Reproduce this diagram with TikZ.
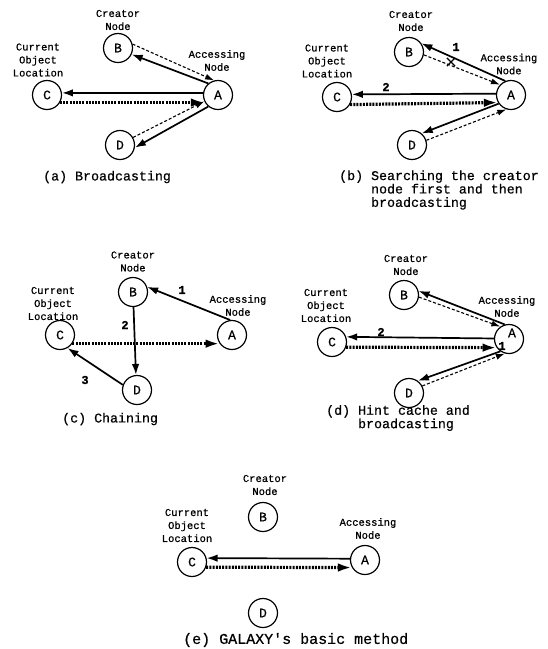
\documentclass[tikz,border=0pt]{standalone}
\usepackage{fontspec}
\setmonofont[FakeBold=1]{Liberation Mono}
\newfontfamily\courfont[FakeBold=0.6]{Liberation Mono}
\usetikzlibrary{arrows.meta,shapes.misc}
\begin{document}
\begin{tikzpicture}[x=1pt,y=-1pt,
 nd/.style={circle,draw,line width=1.2pt,minimum size=29pt,inner sep=0pt,font=\fontsize{13}{13}\selectfont\courfont},
 lbl/.style={align=center,font=\fontsize{10.5}{13}\selectfont\courfont,inner sep=0pt},
 captxt/.style={align=left,anchor=west,font=\fontsize{13.3}{12}\selectfont\courfont,inner sep=0pt},
 num/.style={font=\fontsize{12}{12}\selectfont\ttfamily\bfseries,inner sep=0pt},
 sol/.style={line width=1.7pt,-{Latex[length=11pt,width=7.5pt]}},
 dsh/.style={line width=1.1pt,dash pattern=on 3pt off 2pt,-{Latex[length=9pt,width=6pt]}},
 dotl/.style={line width=3.2pt,dash pattern=on 2pt off 1.2pt,-{Latex[length=14pt,width=8.5pt]}}]
\useasboundingbox (0,0) rectangle (548,649);

% ---------------- (a)
\node[nd] (aA) at (218,95) {A};
\node[nd] (aB) at (118,48) {B};
\node[nd] (aC) at (47,95) {C};
\node[nd] (aD) at (120,145) {D};
\node[lbl] (aLB) at (118,20) {Creator\\Node};
\node[lbl] (aLC) at (38,60) {Current\\Object\\Location};
\node[lbl] (aLA) at (217,60.5) {Accessing\\Node};
\node[captxt] (aCap) at (43,177) {(a) Broadcasting};
\draw[sol] (aA.130) -- (aB.-25);
\draw[dsh] (aB.15) -- (aA.105);
\draw[sol] (aA.172) -- (aC.8);
\draw[dotl] (aC.-30) -- (aA.-150);
\draw[sol] (aA.-130) -- (aD.-10);
\draw[dsh] (aD.30) -- (aA.-155);

% ---------------- (b)
\node[nd] (bA) at (511,95) {A};
\node[nd] (bB) at (409,52) {B};
\node[nd] (bC) at (337,97) {C};
\node[nd] (bD) at (412,145) {D};
\node[lbl] (bLB) at (411,21) {Creator\\Node};
\node[lbl] (bLC) at (327,61) {Current\\Object\\Location};
\node[lbl] (bLA) at (509,64) {Accessing\\Node};
\node[captxt] (bCap) at (339,190) {(b) Searching the creator\\\phantom{(b)\ }node first and then\\\phantom{(b)\ }broadcasting};
\draw[sol] (bA.112) -- (bB.35);
\draw[dsh] (bB.-11) -- (bA.137);
\node[cross out,draw,line width=1.2pt,minimum size=7pt,inner sep=0pt] (bX) at (451,62) {};
\node[num] (b1) at (456,47) {1};
\draw[sol] (bA.175) -- (bC.10);
\node[num] (b2) at (386,87) {2};
\draw[dotl] (bC.-30) -- (bA.-150);
\draw[sol] (bA.-145) -- (bD.50);
\draw[dsh] (bD.18) -- (bA.-108);

% ---------------- (c)
\node[nd] (cA) at (232,335) {A};
\node[nd] (cB) at (133,292) {B};
\node[nd] (cC) at (60,335) {C};
\node[nd] (cD) at (137,390) {D};
\node[lbl] (cLB) at (133,261.5) {Creator\\Node};
\node[lbl] (cLC) at (53,303.5) {Current\\Object\\Location};
\node[lbl] (cLA) at (238,305.5) {Accessing\\Node};
\node[captxt] (cCap) at (62,419) {(c) Chaining};
\draw[sol] (cA.97) -- (cB.20);
\node[num] (c1) at (182,290) {1};
\draw[sol] (cB.-88) -- (cD.94);
\node[num] (c2) at (125,325) {2};
\draw[sol] (cD.160) -- (cC.-60);
\node[num] (c3) at (85,380) {3};
\draw[dotl] (cC.-35) -- (cA.-145);

% ---------------- (d)
\node[nd] (dA) at (509,339) {};
\node[font=\fontsize{13}{13}\selectfont\courfont,inner sep=0pt] (dAt) at (512,333) {A};
\node[nd] (dB) at (404,295) {B};
\node[nd] (dC) at (332,342) {C};
\node[nd] (dD) at (409,393) {D};
\node[lbl] (dLB) at (406,265) {Creator\\Node};
\node[lbl] (dLC) at (326,305.5) {Current\\Object\\Location};
\node[lbl] (dLA) at (507,306.5) {Accessing\\Node};
\node[captxt] (dCap) at (326,418) {(d) Hint cache and\\\phantom{(d)\ }broadcasting};
\draw[sol] (dA.106) -- (dB.16);
\draw[dsh] (dB.-8) -- (dA.125);
\draw[sol] (dA.178) -- (dC.20);
\node[num] (d2) at (381,332) {2};
\draw[dotl] (dC.-20) -- (dA.-145);
\node[num] (d1) at (502,346) {1};
\draw[sol] (dA.-125) -- (dD.54);
\draw[dsh] (dD.28) -- (dA.-106);

% ---------------- (e)
\node[nd] (eA) at (365,560) {A};
\node[nd] (eB) at (263,517) {B};
\node[nd] (eC) at (192,562) {C};
\node[nd] (eD) at (263,613) {D};
\node[lbl] (eLB) at (265,485) {Creator\\Node};
\node[lbl] (eLC) at (187,525.5) {Current\\Object\\Location};
\node[lbl] (eLA) at (368,528.5) {Accessing\\Node};
\node[captxt,font=\fontsize{15}{12}\selectfont\courfont] (eCap) at (183,640) {(e) GALAXY's basic method};
\draw[sol] (eA.175) -- (eC.15);
\draw[dotl] (eC.-20) -- (eA.-150);
\end{tikzpicture}
\end{document}
